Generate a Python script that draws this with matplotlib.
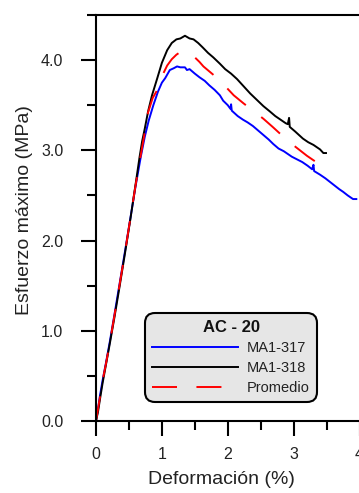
import matplotlib
matplotlib.use('Agg')
from matplotlib import pyplot as plt
from matplotlib.ticker import MultipleLocator

plt.rcParams['font.family'] = ['Liberation Sans', 'DejaVu Sans']
plt.rcParams['lines.scale_dashes'] = False

# MA1-317 (blue)
x_317 = [0, 0.03, 0.06, 0.10, 0.15, 0.21, 0.28, 0.36, 0.44, 0.52, 0.60, 0.68, 0.74,
         0.80, 0.87, 0.94, 1.00, 1.05, 1.12, 1.18, 1.23, 1.28, 1.35, 1.38, 1.42, 1.50,
         1.57, 1.65, 1.72, 1.80, 1.88, 1.93, 2.00, 2.04, 2.05, 2.06, 2.15, 2.23, 2.30,
         2.38, 2.46, 2.54, 2.62, 2.69, 2.77, 2.85, 2.97, 3.05, 3.13, 3.21, 3.28, 3.30,
         3.31, 3.40, 3.48, 3.55, 3.62, 3.69, 3.75, 3.82, 3.90, 3.95]
y_317 = [0, 0.13, 0.28, 0.45, 0.64, 0.88, 1.18, 1.53, 1.88, 2.24, 2.60, 2.93, 3.15,
         3.33, 3.50, 3.65, 3.75, 3.80, 3.89, 3.91, 3.93, 3.92, 3.92, 3.89, 3.90, 3.85,
         3.81, 3.77, 3.72, 3.67, 3.61, 3.55, 3.50, 3.46, 3.51, 3.44, 3.38, 3.34, 3.31,
         3.27, 3.22, 3.17, 3.12, 3.07, 3.02, 2.99, 2.93, 2.90, 2.87, 2.83, 2.79, 2.84,
         2.77, 2.73, 2.69, 2.65, 2.61, 2.57, 2.54, 2.50, 2.46, 2.46]

# MA1-318 (black)
x_318 = [0, 0.03, 0.06, 0.10, 0.15, 0.21, 0.28, 0.36, 0.44, 0.52, 0.60, 0.66, 0.70,
         0.74, 0.79, 0.85, 0.93, 1.00, 1.08, 1.15, 1.22, 1.28, 1.35, 1.42, 1.48, 1.55,
         1.62, 1.70, 1.78, 1.88, 1.96, 2.05, 2.14, 2.24, 2.34, 2.44, 2.54, 2.64, 2.72,
         2.80, 2.88, 2.91, 2.93, 2.94, 3.02, 3.14, 3.22, 3.30, 3.40, 3.45, 3.49]
y_318 = [0, 0.10, 0.24, 0.42, 0.62, 0.86, 1.15, 1.50, 1.86, 2.23, 2.62, 2.92, 3.10,
         3.24, 3.43, 3.61, 3.80, 3.97, 4.11, 4.19, 4.23, 4.24, 4.27, 4.24, 4.23, 4.19,
         4.14, 4.08, 4.03, 3.96, 3.90, 3.85, 3.79, 3.71, 3.63, 3.56, 3.49, 3.43, 3.38,
         3.34, 3.30, 3.29, 3.36, 3.26, 3.21, 3.13, 3.09, 3.06, 3.01, 2.97, 2.97]

# Promedio (red, dashed)
x_prom = [0, 0.05, 0.10, 0.15, 0.21, 0.28, 0.36, 0.44, 0.52, 0.60, 0.68, 0.74, 0.79,
          0.86, 0.93, 1.00, 1.08, 1.15, 1.22, 1.28, 1.35, 1.42, 1.50, 1.57, 1.63, 1.76,
          1.89, 2.00, 2.09, 2.24, 2.40, 2.54, 2.68, 2.80, 2.92, 3.06, 3.20, 3.34, 3.47]
y_prom = [0, 0.22, 0.45, 0.63, 0.87, 1.17, 1.52, 1.87, 2.24, 2.61, 2.95, 3.20, 3.42,
          3.58, 3.67, 3.82, 3.94, 4.01, 4.06, 4.09, 4.10, 4.08, 4.03, 3.98, 3.93, 3.85,
          3.77, 3.68, 3.61, 3.52, 3.43, 3.35, 3.26, 3.18, 3.10, 3.02, 2.94, 2.87, 2.81]

fig = plt.figure(figsize=(3.59, 4.93), dpi=100)
ax = fig.add_axes([96/359, 72/493, 263.6/359, 406/493])

ax.plot(x_317, y_317, color='#0000ff', lw=1.4, label='MA1-317')
ax.plot(x_318, y_318, color='black', lw=1.4, label='MA1-318')
ax.plot(x_prom, y_prom, color='#ff0000', lw=1.4, dashes=(18, 14), label='Promedio')

ax.set_xlim(0, 4)
ax.set_ylim(0, 4.5)
ax.xaxis.set_major_locator(MultipleLocator(1))
ax.xaxis.set_minor_locator(MultipleLocator(0.5))
ax.yaxis.set_major_locator(MultipleLocator(1))
ax.yaxis.set_minor_locator(MultipleLocator(0.5))
ax.xaxis.set_major_formatter(lambda v, p: f'{v:.0f}')
ax.yaxis.set_major_formatter(lambda v, p: f'{v:.1f}')

for s in ['left', 'bottom', 'top']:
  ax.spines[s].set_linewidth(1.5)
ax.spines['right'].set_visible(False)

ax.tick_params(which='major', direction='out', length=10.5, width=1.5,
               labelsize=11.5, colors='black')
ax.tick_params(which='minor', direction='out', length=6.5, width=1.5)
ax.tick_params(axis='x', which='major', pad=8)
ax.tick_params(axis='y', which='major', pad=13)
for lab in ax.get_xticklabels() + ax.get_yticklabels():
  lab.set_color('#222222')

ax.set_xlabel('Deformación (%)', fontsize=14, color='#222222')
ax.set_ylabel('Esfuerzo máximo (MPa)', fontsize=14, color='#222222')
ax.xaxis.set_label_coords(0.474, -0.122)
ax.yaxis.set_label_coords(-0.238, 0.52)

leg = ax.legend(loc='lower left', bbox_to_anchor=(0.186, 0.047), borderaxespad=0,
                title='AC - 20', title_fontproperties={'weight': 'bold', 'size': 12},
                fontsize=10.5, handlelength=5.9, handletextpad=0.6, borderpad=0.5,
                labelspacing=0.4, frameon=True, fancybox=True, facecolor='#e6e6e6',
                edgecolor='black', framealpha=1)
leg.get_frame().set_boxstyle('round', pad=0, rounding_size=0.7)
leg.get_frame().set_linewidth(1.5)
for t in leg.get_texts():
  t.set_color('#222222')
leg.get_title().set_color('#111111')

fig.savefig('out.png', dpi=100)
